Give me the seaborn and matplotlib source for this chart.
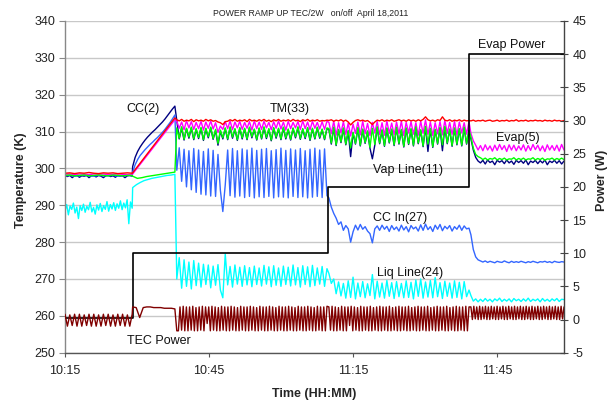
import numpy as np
import pandas as pd
import matplotlib
matplotlib.use("Agg")
import matplotlib.pyplot as plt
import seaborn as sns

# Time spans (minutes after 10:15) of the logged test phases:
# idle, ramp, 10 W, 20 W, 40 W evaporator power
seg_spans = [(0.0, 14.0), (14.1, 22.9), (23.3, 54.6), (55.0, 84.2), (84.6, 104.0)]

time_ticks = [0, 30, 60, 90]
time_labels = ["10:15", "10:45", "11:15", "11:45"]

# ---- CC(2) temperature, K ----
cc_a = [298.0, 297.8, 298.1, 297.5, 298.0, 298.1, 297.6, 298.0, 297.9, 298.1, 297.5, 298.0, 298.0, 297.7, 298.1,
        297.9, 297.5, 298.0, 298.1, 297.8, 298.0, 297.6, 298.1, 297.9, 298.0, 297.5, 298.0, 298.1, 297.9]
cc_b = [300.5, 303.0, 304.6, 305.8, 306.8, 307.7, 308.5, 309.2, 309.9, 310.5, 311.2, 311.9, 312.6, 313.4, 314.3,
        315.2, 316.1, 316.9]
cc_c = [313.0, 308.0, 311.0, 307.7, 310.8, 308.2, 311.0, 307.8, 310.6, 308.1, 310.9, 307.6, 310.7, 308.3, 311.0,
        307.9, 310.3, 306.3, 310.1, 308.0, 310.8, 307.8, 311.0, 308.2, 310.6, 307.6, 310.9, 308.0, 310.7, 307.8,
        311.0, 308.3, 310.5, 307.7, 310.8, 308.0, 311.0, 308.1, 310.6, 307.5, 310.9, 308.2, 310.7, 307.8, 311.0,
        308.0, 310.5, 307.7, 310.8, 308.3, 311.0, 307.9, 310.6, 308.1, 310.9, 307.6, 310.7, 308.0, 311.0, 308.2,
        310.5, 307.8, 310.8]
cc_d = [310.6, 306.6, 311.0, 306.2, 310.4, 307.0, 310.8, 306.4, 310.1, 303.2, 309.6, 306.6, 310.9, 306.1, 310.5,
        306.8, 310.0, 305.5, 302.6, 306.3, 311.1, 306.7, 310.3, 306.0, 310.8, 306.9, 310.5, 306.2, 311.0, 306.6,
        310.4, 305.8, 310.8, 306.5, 310.6, 306.1, 311.1, 306.7, 310.3, 305.9, 311.2, 304.6, 310.7, 305.7, 310.4,
        306.6, 310.9, 304.8, 311.2, 306.7, 310.5, 306.0, 310.8, 306.4, 310.6, 306.1, 311.0, 306.6, 310.2]
cc_e = [308.0, 305.0, 303.0, 302.0, 301.5, 302.2, 301.2, 302.3, 301.6, 302.0, 301.0, 302.2, 301.7, 302.1, 301.3,
        302.3, 301.5, 302.0, 301.1, 302.2, 301.6, 302.1, 301.4, 302.3, 301.0, 302.0, 301.6, 302.2, 301.3, 302.1,
        301.5, 302.3, 301.0, 302.0, 301.6, 302.2, 301.4, 302.1, 301.2, 302.0]

# ---- CC In(27) temperature, K ----
ccin_a = [298.0, 298.1, 297.9, 298.0, 298.1, 298.0, 297.9, 298.1, 298.0, 298.0, 298.1, 297.9, 298.0, 298.1, 298.0]
ccin_b = [299.0, 301.0, 302.4, 303.5, 304.3, 305.1, 305.8, 306.5, 307.1, 307.8, 308.4, 309.1, 309.8, 310.6, 311.5,
          312.4, 313.4, 314.5]
ccin_c = [299.5, 305.6, 296.5, 305.2, 295.0, 304.8, 294.2, 305.4, 293.5, 305.0, 293.0, 304.6, 292.8, 305.3, 292.5,
          304.9, 292.4, 303.8, 294.0, 288.3, 295.5, 305.0, 292.6, 305.4, 292.2, 304.8, 292.5, 305.3, 292.1, 305.0,
          292.4, 305.5, 292.0, 304.9, 292.3, 305.2, 292.1, 305.4, 292.4, 304.8, 292.0, 305.1, 292.3, 305.5, 292.2,
          304.9, 292.0, 305.3, 292.4, 305.0, 292.1, 305.4, 292.3, 304.8, 292.0, 305.2, 292.2, 305.5, 292.4, 305.0,
          292.1, 305.3, 292.6]
ccin_d = [292.0, 289.5, 287.8, 286.5, 284.8, 285.5, 283.2, 284.5, 283.6, 280.0, 282.8, 284.6, 283.3, 284.8, 283.5,
          284.2, 283.0, 282.3, 279.8, 283.6, 284.4, 283.2, 284.6, 283.5, 284.3, 282.9, 284.5, 283.4, 284.1, 283.0,
          284.6, 283.3, 284.2, 282.8, 284.5, 283.6, 284.1, 283.0, 284.7, 283.2, 284.9, 283.4, 284.2, 282.9, 284.6,
          283.5, 284.8, 283.1, 284.3, 283.6, 284.5, 283.0, 284.2, 283.5, 284.6, 283.2, 284.4, 283.6, 283.8]
ccin_e = [282.0, 278.0, 276.0, 275.2, 274.9, 274.6, 274.9, 274.5, 274.8, 274.6, 274.4, 274.8, 274.6, 274.5, 274.9,
          274.6, 274.4, 274.8, 274.5, 274.7, 274.5, 274.8, 274.6, 274.4, 274.7, 274.5, 274.8, 274.6, 274.4, 274.7,
          274.6, 274.8, 274.5, 274.7, 274.4, 274.8, 274.6, 274.5, 274.7, 274.6]

# ---- Liq Line(24) temperature, K ----
liq_a = [288.5, 290.2, 287.4, 289.8, 288.9, 290.6, 287.9, 289.5, 286.4, 289.9, 288.6, 290.3, 288.1, 289.7, 288.8,
         290.8, 288.2, 289.4, 287.6, 290.1, 288.7, 290.5, 288.3, 289.9, 288.9, 291.0, 288.4, 290.2, 289.0, 290.7,
         288.6, 290.4, 289.2, 291.2, 288.8, 290.6, 289.3, 291.5, 285.0, 290.9, 289.2]
liq_b = [294.8, 295.6, 296.2, 296.7, 297.0, 297.3, 297.5, 297.7, 297.9, 298.1, 298.2, 298.4]
liq_c = [270.0, 275.8, 267.5, 275.2, 268.0, 274.6, 267.3, 275.0, 268.2, 274.3, 267.8, 274.0, 268.5, 273.8, 267.6,
         273.5, 268.3, 273.9, 267.0, 264.9, 276.8, 268.4, 273.4, 267.8, 273.8, 268.6, 273.2, 268.0, 273.6, 268.4,
         273.1, 267.9, 273.5, 268.5, 273.0, 268.1, 273.7, 268.6, 273.3, 267.9, 273.6, 268.3, 273.0, 268.0, 273.5,
         268.5, 273.2, 268.1, 273.8, 268.4, 273.1, 267.8, 273.6, 268.5, 273.3, 267.9, 273.7, 268.2, 273.0, 268.6,
         273.4, 268.0, 272.8]
liq_d = [271.5, 268.8, 270.0, 266.0, 269.2, 265.4, 268.8, 264.8, 269.5, 265.0, 270.5, 264.6, 268.9, 265.2, 269.3,
         264.9, 268.7, 265.5, 271.2, 264.6, 269.4, 265.1, 268.9, 264.8, 269.6, 265.3, 269.0, 264.7, 269.3, 265.2,
         268.8, 264.9, 269.5, 265.0, 269.1, 264.6, 269.7, 265.3, 270.0, 264.8, 269.2, 265.1, 269.6, 264.9, 270.4,
         265.2, 269.0, 264.7, 269.4, 265.3, 268.9, 264.8, 269.5, 265.0, 269.1, 264.6, 269.3, 265.2, 267.0]
liq_e = [265.5, 264.0, 264.6, 263.8, 264.5, 263.9, 264.7, 264.0, 264.5, 263.8, 264.6, 264.1, 264.8, 263.9, 264.5,
         264.0, 264.6, 263.8, 264.7, 264.1, 264.5, 263.9, 264.6, 264.0, 264.8, 263.9, 264.5, 264.1, 264.6, 263.8,
         264.7, 264.0, 264.5, 263.9, 264.6, 264.1, 264.7, 263.9, 264.5, 264.4]

# ---- Evap(5) temperature, K ----
evap_a = [298.4, 298.5, 298.3, 298.5, 298.4, 298.3, 298.5, 298.4, 298.5, 298.3, 298.4, 298.5, 298.4, 298.3, 298.4]
evap_b = [298.5, 313.2]
evap_c = [312.8, 310.9, 312.6, 310.5, 312.9, 311.0, 312.7, 310.6, 312.5, 310.8, 312.8, 310.4, 312.6, 310.9, 312.9,
          310.7, 312.4, 309.8, 311.5, 310.6, 312.7, 310.8, 312.9, 310.5, 312.6, 311.0, 312.8, 310.6, 312.5, 310.9,
          312.7, 310.4, 312.9, 310.8, 312.6, 310.6, 312.8, 311.0, 312.5, 310.5, 312.7, 310.9, 312.9, 310.7, 312.6,
          310.4, 312.8, 310.8, 312.5, 311.0, 312.7, 310.6, 312.9, 310.8, 312.6, 310.5, 312.8, 310.9, 312.5, 310.7,
          312.7, 310.6, 312.8]
evap_d = [312.5, 309.4, 312.8, 309.0, 312.4, 309.6, 312.7, 309.2, 312.3, 308.8, 312.0, 309.5, 312.6, 309.1, 312.8,
          309.4, 312.2, 308.9, 312.5, 309.6, 312.7, 309.2, 312.4, 309.0, 312.9, 309.5, 312.3, 309.1, 312.6, 309.4,
          312.8, 308.9, 312.5, 309.6, 312.7, 309.3, 312.4, 309.0, 312.8, 309.5, 313.2, 309.2, 312.6, 308.9, 312.4,
          309.4, 312.7, 309.1, 313.0, 309.5, 312.5, 309.2, 312.8, 309.0, 312.6, 309.6, 312.4, 309.3, 312.7]
evap_e = [309.5, 307.5, 306.3, 305.0, 306.2, 304.8, 306.4, 305.0, 306.1, 304.7, 306.3, 304.9, 306.5, 305.1, 306.2,
          304.6, 306.4, 305.0, 306.3, 304.8, 306.1, 305.0, 306.4, 304.7, 306.2, 304.9, 306.5, 305.1, 306.3, 304.8,
          306.1, 304.6, 306.4, 305.0, 306.2, 304.9, 306.3, 304.7, 306.5, 305.0]

# ---- Vap Line(11) temperature, K ----
vap_a = [298.1, 298.2, 298.0, 298.1, 298.2, 298.0, 298.1, 298.2, 298.1, 298.0, 298.2, 298.1, 298.0, 298.1, 298.1]
vap_b = [297.9, 297.3, 297.5, 297.8, 298.0, 298.2, 298.4, 298.6, 298.8, 299.0]
vap_c = [311.0, 308.2, 311.3, 307.9, 310.9, 308.5, 311.2, 308.0, 310.8, 308.4, 311.1, 307.8, 310.9, 308.6, 311.2,
         308.1, 310.6, 306.8, 310.4, 308.3, 311.0, 308.0, 311.3, 308.5, 310.8, 307.8, 311.1, 308.3, 310.9, 308.0,
         311.2, 308.6, 310.7, 307.9, 311.0, 308.2, 311.3, 308.4, 310.8, 307.7, 311.1, 308.5, 310.9, 308.0, 311.2,
         308.3, 310.7, 307.9, 311.0, 308.6, 311.3, 308.1, 310.8, 308.4, 311.1, 307.8, 310.9, 308.2, 311.2, 308.5,
         310.7, 308.0, 311.0]
vap_d = [310.8, 306.9, 311.2, 306.4, 310.6, 307.2, 311.0, 306.6, 310.3, 305.6, 309.8, 306.8, 311.1, 306.3, 310.7,
         307.0, 310.2, 305.7, 310.9, 306.5, 311.3, 306.9, 310.5, 306.2, 311.0, 307.1, 310.7, 306.4, 311.2, 306.8,
         310.6, 306.0, 311.0, 306.7, 310.8, 306.3, 311.3, 306.9, 310.5, 306.1, 311.4, 306.6, 310.9, 305.9, 310.6,
         306.8, 311.1, 306.4, 311.4, 306.9, 310.7, 306.2, 311.0, 306.6, 310.8, 306.3, 311.2, 306.8, 310.4]
vap_e = [308.5, 305.5, 303.8, 303.2, 302.9, 302.4, 302.8, 302.3, 302.7, 302.5, 302.9, 302.3, 302.7, 302.4, 302.8,
         302.3, 302.6, 302.5, 302.9, 302.3, 302.7, 302.4, 302.8, 302.3, 302.6, 302.5, 302.9, 302.3, 302.7, 302.4,
         302.8, 302.2, 302.6, 302.5, 302.8, 302.3, 302.7, 302.4, 302.8, 302.4]

# ---- TM(33) temperature, K ----
tm_a = [298.7, 298.8, 298.6, 298.8, 298.7, 298.9, 298.7, 298.6, 298.8, 298.7, 298.8, 298.6, 298.7, 298.8, 298.7]
tm_b = [298.8, 313.7]
tm_c = [313.2, 312.9, 313.3, 312.8, 313.1, 312.9, 313.3, 312.7, 313.2, 312.9, 313.1, 312.8, 313.3, 312.9, 313.2,
        312.8, 313.0, 312.6, 312.4, 311.9, 312.7, 312.8, 313.2, 312.9, 313.3, 312.8, 313.1, 312.9, 313.2, 312.7,
        313.3, 312.9, 313.1, 312.8, 313.2, 312.9, 313.3, 312.8, 313.1, 312.7, 313.2, 312.9, 313.3, 312.8, 313.1,
        312.9, 313.2, 312.8, 313.3, 312.9, 313.1, 312.7, 313.2, 312.9, 313.3, 312.8, 313.1, 312.9, 313.2, 312.8,
        313.0, 312.9, 313.1]
tm_d = [313.0, 313.2, 312.8, 313.1, 312.9, 313.2, 312.8, 313.1, 312.6, 311.8, 312.5, 313.0, 313.2, 312.9, 313.1,
        312.8, 313.0, 312.5, 311.9, 312.6, 313.1, 312.9, 313.2, 312.8, 313.1, 312.9, 313.2, 312.8, 313.0, 313.2,
        312.9, 313.1, 312.8, 313.2, 312.9, 313.1, 312.8, 313.2, 312.9, 313.3, 314.0, 313.2, 312.9, 313.1, 312.8,
        313.2, 313.0, 314.0, 313.1, 312.9, 313.2, 312.8, 313.1, 312.9, 313.2, 312.8, 313.1, 312.9, 313.0]
tm_e = [312.9, 313.1, 312.8, 313.0, 312.9, 313.1, 312.8, 313.0, 313.1, 312.8, 312.9, 313.1, 312.8, 313.0, 312.9,
        313.1, 312.8, 313.0, 312.9, 313.2, 312.8, 313.0, 312.9, 313.1, 312.8, 313.0, 312.9, 313.1, 312.9, 313.0,
        312.8, 313.1, 312.9, 313.0, 312.8, 313.1, 312.9, 313.0, 312.8, 313.0]

# ---- TEC power, W ----
tec_a = [0.8, -1.0, 0.7, -0.9, 0.8, -1.0, 0.8, -1.0, 0.7, -0.9, 0.8, -1.0, 0.8, -1.0, 0.7, -1.0, 0.8, -0.9, 0.8,
         -1.0, 0.7, -1.0, 0.8, -0.9, 0.8, -1.0, 0.7, -1.0, 0.8]
tec_b = [1.9, 1.8, 0.3, 1.8, 1.9, 1.9, 1.8, 1.8, 1.8, 1.7, 1.7, 1.7, 1.6]
tec_c = [-1.7, -1.7, 1.9, -1.6, 2.0, -1.7, 1.9, -1.7, 1.9, -1.6, 2.0, -1.7, 1.8, -1.7, 1.9, -1.6, 2.0, -1.7, 1.9,
         -0.6, 1.9, -1.7, 2.0, -1.6, 1.9, -1.7, 1.8, -1.7, 2.0, -1.6, 1.9, -1.7, 1.9, -1.7, 2.0, -1.6, 1.9, -1.7,
         1.8, -1.7, 2.0, -1.6, 1.9, -1.7, 1.9, -1.7, 2.0, -1.6, 1.9, -1.7, 1.8, -1.7, 2.0, -1.6, 1.9, -1.7, 1.9,
         -1.7, 2.0, -1.6, 1.9, -1.7, 1.8, -1.7, 2.0, -1.6, 1.9, -1.7, 1.9, -1.7, 2.0, -1.6, 1.9, -1.7, 1.8, -1.7,
         2.0, -1.6, 1.9, -1.7, 1.9, -1.7, 2.0, -1.6, 1.9, -1.7, 1.8, -1.7, 2.0, -1.6, 1.9, -1.7, 1.9, -1.7, 2.0]
tec_d = [1.9, -1.6, 2.0, -1.7, 1.9, -1.7, 1.8, -1.6, 2.0, -1.7, 1.9, -1.7, 1.9, -0.9, 2.0, -1.7, 1.9, -1.6, 1.8,
         -1.7, 2.0, -1.7, 1.9, -1.6, 1.9, -1.7, 2.0, -1.7, 1.8, -1.6, 1.9, -1.7, 2.0, -1.7, 1.9, -1.6, 1.9, -1.7,
         2.0, -1.7, 1.8, -1.6, 1.9, -1.7, 2.0, -1.7, 1.9, -1.6, 1.9, -1.7, 2.0, -1.7, 1.8, -1.6, 1.9, -1.7, 2.0,
         -1.7, 1.9, -1.6, 1.9, -1.7, 2.0, -1.7, 1.8, -1.6, 1.9, -1.7, 2.0, -1.7, 1.9, -1.6, 1.9, -1.7, 2.0, -1.7,
         1.8, -1.6, 1.9, -1.7, 2.0, -1.7, 1.9, -1.6, 1.9, -1.7, 2.0, -1.7, 1.9]
tec_e = [1.9, 0.0, 2.0, 0.1, 1.9, 0.0, 2.0, 0.0, 1.9, 0.1, 2.0, 0.0, 1.9, 0.0, 2.0, 0.1, 1.9, 0.0, 2.0, 0.0, 1.9,
         0.1, 2.0, 0.0, 1.9, 0.0, 2.0, 0.1, 1.9, 0.0, 2.0, 0.0, 1.9, 0.1, 2.0, 0.0, 1.9, 0.0, 2.0, 0.1, 1.9, 0.0,
         2.0, 0.0, 1.9, 0.1, 2.0, 0.0, 1.9, 0.0, 2.0, 0.1, 1.9, 0.0, 2.0, 0.0, 1.9, 0.1, 2.0, 0.0, 1.9, 0.0, 2.0,
         0.1, 1.9]

# ---- Evaporator power steps, W ----
evap_power_t = [0.0, 14.1, 54.8, 84.2, 104.0]
evap_power_w = [0.2, 10.0, 20.0, 40.0, 40.0]


def series_frame(segments):
    """Stack the per-phase samples into one time series."""
    t = np.concatenate([np.linspace(a, b, len(v)) for (a, b), v in zip(seg_spans, segments)])
    y = np.concatenate([np.asarray(v, dtype=float) for v in segments])
    return pd.DataFrame({"minute": t, "value": y})


sns.set_style("white")
plt.rcParams["font.family"] = ["Liberation Sans", "DejaVu Sans"]
plt.rcParams["axes.unicode_minus"] = False

fig = plt.figure(figsize=(6.11, 4.0), dpi=100)
ax = fig.add_axes([65 / 611, 1 - 352.7 / 400, (564 - 65) / 611, (352.7 - 21) / 400])
ax2 = ax.twinx()

temperature_series = [
    ([cc_a, cc_b, cc_c, cc_d, cc_e], "#000080"),
    ([ccin_a, ccin_b, ccin_c, ccin_d, ccin_e], "#3366FF"),
    ([liq_a, liq_b, liq_c, liq_d, liq_e], "#00FFFF"),
    ([evap_a, evap_b, evap_c, evap_d, evap_e], "#FF00FF"),
    ([vap_a, vap_b, vap_c, vap_d, vap_e], "#00FF00"),
    ([tm_a, tm_b, tm_c, tm_d, tm_e], "#FF0000"),
]
for segs, color in temperature_series:
    sns.lineplot(data=series_frame(segs), x="minute", y="value", ax=ax, color=color,
                 linewidth=1.0, estimator=None, sort=False)

sns.lineplot(x=evap_power_t, y=evap_power_w, ax=ax2, color="black", linewidth=1.2,
             drawstyle="steps-post", estimator=None, sort=False)
sns.lineplot(data=series_frame([tec_a, tec_b, tec_c, tec_d, tec_e]), x="minute", y="value",
             ax=ax2, color="#800000", linewidth=1.0, estimator=None, sort=False)

# axes ranges and ticks
ax.set_xlim(0, 104)
ax.set_ylim(250, 340)
ax.set_yticks(range(250, 341, 10))
ax2.set_ylim(-5, 45)
ax2.set_yticks(range(-5, 46, 5))
ax.set_xticks(time_ticks)
ax.set_xticklabels(time_labels)

ax.yaxis.grid(True, color="#C8C8C8", linewidth=1.0)
ax.xaxis.grid(False)
ax2.grid(False)
ax.set_axisbelow(True)

for side in ("top", "right"):
    ax.spines[side].set_visible(False)
for side in ("top", "left", "bottom"):
    ax2.spines[side].set_visible(False)
ax.spines["left"].set_color("#888888")
ax.spines["bottom"].set_color("#555555")
ax2.spines["right"].set_color("#444444")
for sp in (ax.spines["left"], ax.spines["bottom"], ax2.spines["right"]):
    sp.set_linewidth(1.0)

ax.tick_params(axis="y", direction="out", length=4, color="#888888", labelsize=9, pad=3,
               labelcolor="#222222", left=True)
ax.tick_params(axis="x", direction="out", length=3, color="#555555", labelsize=9, pad=6,
               labelcolor="#222222", bottom=True)
ax2.tick_params(axis="y", direction="inout", length=6, color="#444444", labelsize=9, pad=3,
                labelcolor="#222222", right=True)

ax.set_xlabel("Time (HH:MM)", fontsize=9, fontweight="bold")
ax.set_ylabel("Temperature (K)", fontsize=9, fontweight="bold")
ax2.set_ylabel("Power (W)", fontsize=9, fontweight="bold", rotation=90)
ax.xaxis.set_label_coords(0.5, -0.106)
ax.yaxis.set_label_coords(-0.077, 0.52)
ax2.yaxis.set_label_coords(1.064, 0.52)

fig.text(311 / 611, 1 - 13 / 400, "POWER RAMP UP TEC/2W   on/off  April 18,2011",
         ha="center", va="center", fontsize=6.3, color="#222222")

# series labels
labels = [
    ("CC(2)", 16.3, 316.1),
    ("TM(33)", 46.9, 316.1),
    ("Evap Power", 93.1, 333.5),
    ("Evap(5)", 94.3, 308.3),
    ("Vap Line(11)", 71.4, 299.6),
    ("CC In(27)", 69.9, 286.6),
    ("Liq Line(24)", 72.0, 271.6),
    ("TEC Power", 19.6, 253.2),
]
for text, tx, ty in labels:
    ax.text(tx, ty, text, ha="center", va="center", fontsize=9, color="#111111", zorder=10)

fig.savefig("out.png", dpi=100)
